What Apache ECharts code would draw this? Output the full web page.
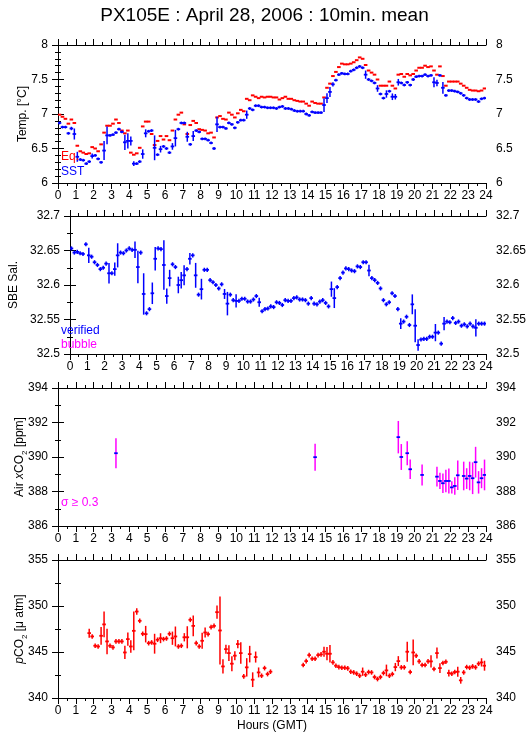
<!DOCTYPE html>
<html><head><meta charset="utf-8">
<script src="https://cdn.jsdelivr.net/npm/echarts@6/dist/echarts.min.js"></script>
<style>html,body{margin:0;padding:0;background:#fff}#c{width:529px;height:739px}</style>
</head><body><div id="c"></div>
<script>
// ---------- DATA (10-minute means, slot i covers hour i/6 .. (i+1)/6) ----------
const hourTicks = [0,1,2,3,4,5,6,7,8,9,10,11,12,13,14,15,16,17,18,19,20,21,22,23,24];

const eqTemp = [
6.99,6.96,6.93,6.86,6.92,6.87,6.54,6.46,6.44,6.42,
6.43,6.52,6.50,6.46,6.56,6.73,6.83,6.83,6.86,6.92,
6.87,6.76,6.72,6.76,6.44,6.41,6.43,6.51,6.82,6.89,
6.89,6.71,6.55,6.61,6.68,6.63,6.68,6.62,6.76,6.92,
6.99,7.02,6.85,6.71,6.84,6.90,6.87,6.78,6.77,6.76,
6.72,6.73,6.66,6.95,6.97,6.93,6.92,7.02,6.99,6.95,
7.01,7.06,7.04,7.22,7.20,7.27,7.25,7.23,7.25,7.24,
7.25,7.25,7.24,7.24,7.21,7.23,7.25,7.22,7.22,7.20,
7.19,7.18,7.18,7.15,7.12,7.18,7.16,7.15,7.15,7.24,
7.38,7.44,7.55,7.61,7.68,7.73,7.72,7.72,7.73,7.75,
7.78,7.82,7.80,7.71,7.63,7.60,7.57,7.50,7.41,7.41,
7.41,7.47,7.41,7.37,7.57,7.58,7.54,7.58,7.56,7.58,
7.63,7.67,7.67,7.70,7.68,7.69,7.63,7.57,7.69,7.55,
7.41,7.47,7.47,7.47,7.47,7.44,7.41,7.38,7.35,7.34,
7.34,7.33,7.34,7.37];

const sstTemp = [
6.87,6.81,6.81,6.72,6.79,6.71,6.38,6.34,6.33,6.28,
6.31,6.39,6.40,6.35,6.30,6.47,6.69,6.69,6.70,6.73,
6.78,6.74,6.59,6.61,6.61,6.28,6.28,6.31,6.42,6.72,
6.75,6.76,6.51,6.41,6.49,6.53,6.50,6.44,6.53,6.65,
6.78,6.87,6.87,6.67,6.56,6.68,6.76,6.74,6.64,6.64,
6.62,6.58,6.50,6.85,6.81,6.81,6.79,6.87,6.85,6.80,
6.88,6.91,6.91,6.99,7.08,7.06,7.12,7.12,7.10,7.10,
7.09,7.09,7.09,7.08,7.10,7.11,7.08,7.08,7.07,7.05,
7.04,7.04,7.04,7.00,6.98,7.03,7.02,7.02,7.02,7.13,
7.23,7.32,7.43,7.49,7.57,7.59,7.58,7.58,7.62,7.64,
7.67,7.69,7.67,7.57,7.50,7.48,7.45,7.37,7.29,7.23,
7.29,7.33,7.25,7.25,7.46,7.45,7.42,7.46,7.42,7.50,
7.54,7.55,7.55,7.57,7.55,7.56,7.46,7.45,7.56,7.38,
7.27,7.34,7.34,7.33,7.32,7.30,7.27,7.23,7.21,7.21,
7.21,7.18,7.22,7.23];

const sstStd = [
0.02,0.02,0.02,0.02,0.025,0.08,0.072,0.02,0.02,0.02,
0.02,0.036,0.02,0.02,0.02,0.138,0.13,0.02,0.02,0.02,
0.02,0.02,0.11,0.11,0.065,0.034,0.02,0.02,0.068,0.058,
0.02,0.02,0.18,0.02,0.048,0.02,0.02,0.02,0.048,0.12,
0.02,0.02,0.02,0.072,0.02,0.072,0.02,0.02,0.02,0.02,
0.02,0.02,0.02,0.11,0.02,0.02,0.02,0.02,0.02,0.02,
0.02,0.02,0.02,0.06,0.02,0.02,0.02,0.02,0.02,0.02,
0.02,0.02,0.02,0.02,0.02,0.02,0.02,0.02,0.02,0.02,
0.02,0.02,0.02,0.02,0.02,0.02,0.02,0.02,0.02,0.1,
0.072,0.072,0.03,0.02,0.02,0.02,0.02,0.02,0.02,0.02,
0.02,0.02,0.02,0.06,0.02,0.02,0.02,0.048,0.02,0.02,
0.053,0.02,0.048,0.04,0.048,0.02,0.02,0.02,0.02,0.02,
0.02,0.02,0.02,0.02,0.02,0.02,0.072,0.048,0.02,0.085,
0.02,0.02,0.02,0.02,0.02,0.02,0.02,0.02,0.02,0.02,
0.02,0.02,0.02,0.02];

const salinity = [
32.653,32.647,32.648,32.646,32.645,32.659,32.643,32.641,32.633,32.629,
32.623,32.625,32.631,32.617,32.617,32.623,32.643,32.647,32.646,32.650,
32.653,32.651,32.651,32.626,32.647,32.587,32.559,32.565,32.588,32.638,
32.653,32.652,32.629,32.584,32.610,32.630,32.626,32.600,32.607,32.614,
32.623,32.638,32.643,32.614,32.586,32.594,32.622,32.622,32.607,32.604,
32.600,32.595,32.601,32.587,32.573,32.586,32.578,32.577,32.577,32.580,
32.580,32.576,32.576,32.579,32.584,32.575,32.562,32.565,32.566,32.569,
32.568,32.575,32.574,32.571,32.578,32.577,32.577,32.581,32.582,32.579,
32.579,32.578,32.573,32.581,32.573,32.572,32.576,32.578,32.574,32.569,
32.594,32.581,32.597,32.610,32.618,32.624,32.623,32.621,32.620,32.627,
32.626,32.633,32.633,32.621,32.610,32.607,32.603,32.595,32.578,32.572,
32.575,32.588,32.584,32.565,32.544,32.547,32.554,32.542,32.572,32.541,
32.513,32.521,32.522,32.522,32.525,32.525,32.531,32.531,32.515,32.544,
32.547,32.546,32.552,32.545,32.547,32.541,32.543,32.540,32.544,32.540,
32.538,32.544,32.544,32.544];

const salStd = [
.003,.003,.003,.003,.003,.003,.011,.003,.003,.003,
.003,.003,.003,.015,.003,.0096,.0175,.003,.003,.003,
.003,.003,.012,.0236,.003,.03,.003,.003,.0156,.017,
.003,.003,.036,.011,.012,.003,.003,.012,.012,.0145,
.003,.0084,.003,.018,.003,.015,.003,.003,.003,.003,
.003,.003,.003,.0072,.017,.003,.003,.0096,.003,.003,
.003,.003,.003,.003,.003,.0065,.003,.003,.003,.003,
.003,.003,.003,.003,.003,.003,.003,.003,.003,.003,
.003,.003,.003,.003,.003,.003,.003,.003,.003,.003,
.011,.0144,.003,.003,.003,.003,.003,.003,.003,.003,
.003,.003,.003,.0084,.003,.003,.003,.003,.003,.003,
.003,.003,.003,.003,.0077,.003,.003,.003,.0144,.024,
.0084,.003,.003,.003,.003,.003,.0125,.003,.003,.0096,
.003,.003,.003,.003,.003,.003,.003,.003,.003,.003,
.0125,.003,.003,.003];

// Air xCO2: only flagged (sigma >= 0.3) points are shown
const airSlot = [19,86,114,115,117,118,122,127,128,129,130,131,132,133,134,136,137,138,139,140,141,142,143];
const airXco2 = [390.22,389.99,391.15,390.0,390.22,389.29,388.96,388.86,388.61,388.48,388.61,388.61,388.24,388.32,388.94,388.9,388.75,388.9,388.77,389.7,388.53,388.77,388.96];
const airStd = [0.87,0.78,0.94,0.75,0.70,0.56,0.61,0.57,0.47,0.56,0.65,0.73,0.36,0.51,0.85,0.83,0.6,0.83,0.92,0.89,0.65,0.58,0.89];

const pco2 = [
null,null,null,null,null,null,null,null,null,null,
347.05,346.69,345.68,345.6,346.76,348.0,346.15,345.68,345.5,346.15,
346.15,346.15,344.95,346.4,345.6,347.3,349.4,348.39,346.98,346.94,
345.96,346.04,345.9,346.33,346.5,346.4,346.47,346.98,346.5,346.69,
345.6,345.68,346.6,346.6,348.5,347.84,345.96,345.6,346.22,347.12,
346.94,347.7,347.84,349.33,347.34,343.43,345.31,344.88,343.73,344.6,
345.86,344.88,342.35,343.33,344.77,341.99,344.45,342.78,342.42,343.25,
342.6,342.86,null,null,null,null,null,null,null,null,
null,null,343.58,344.01,344.66,344.27,344.27,344.66,344.74,345.03,
344.81,344.81,343.87,343.51,343.36,343.29,343.29,343.22,342.86,342.78,
342.64,342.42,342.86,342.53,342.82,342.78,342.28,342.06,342.28,342.71,
343.0,342.42,342.6,343.36,344.01,343.33,343.33,345.03,342.82,344.95,
344.6,343.98,343.58,343.58,343.98,343.98,343.15,344.88,343.25,343.8,
343.94,342.71,342.64,342.82,342.86,341.92,342.78,343.36,343.29,343.43,
343.33,343.73,343.87,343.51];

const pco2Std = [
0,0,0,0,0,0,0,0,0,0,
.49,.25,.25,.25,.96,1.39,1.39,.25,.25,.25,
.25,.25,.72,.72,.69,2.1,.36,.25,.25,.9,
.25,.25,1.08,.25,.54,.25,.25,.25,.72,1.08,
.25,.25,.45,1.2,.25,1.12,.25,.25,.87,.54,
.25,.25,.25,.72,3.7,.78,.49,.85,.81,.49,
.45,1.17,.25,1.0,.9,.8,.6,.54,.25,.25,
.25,.25,0,0,0,0,0,0,0,0,
0,0,.25,.25,.25,.25,.25,.25,.25,.54,
.72,.94,.25,.25,.25,.25,.25,.25,.25,.25,
.25,.25,.45,.25,.25,.25,.25,.25,.25,.25,
.63,.25,.25,.45,.54,.25,.25,1.08,.25,1.4,
.25,.25,.25,.25,.25,.67,.25,.6,.54,.25,
.25,.36,.25,.25,.54,.36,.25,.25,.25,.25,
.25,.25,.45,.54];

[eqTemp,sstTemp,sstStd,salinity,salStd,pco2,pco2Std].forEach((a,k)=>{ if(a.length!==144) throw new Error('array '+k+' length '+a.length); });
if (airSlot.length!==airXco2.length || airSlot.length!==airStd.length) throw new Error('air length');

// ---------- BUILD ----------
const FONT = '"Liberation Sans", Arial, Helvetica, sans-serif';
const BLUE = '#0000ff', RED = '#ff0000', MAG = '#ff00ff';
const slotHour = i => (i + 0.5) / 6;

function toPoints(vals, errs) {
  const out = [];
  vals.forEach((v, i) => { if (v !== null) out.push([slotHour(i), v, errs ? errs[i] : 0]); });
  return out;
}
const airPoints = airSlot.map((s, k) => [slotHour(s), airXco2[k], airStd[k]]);

function crossSeries(gi, data, dashColor, barColor, halfPx, dashW) {
  return {
    type: 'custom', xAxisIndex: gi * 2, yAxisIndex: gi * 2, clip: true,
    data: data, animation: false,
    renderItem: function (params, api) {
      const x = api.value(0), v = api.value(1), e = api.value(2);
      const c = api.coord([x, v]);
      const children = [];
      if (e > 0) {
        const t = api.coord([x, v + e]), b = api.coord([x, v - e]);
        children.push({ type: 'line', shape: { x1: c[0], y1: t[1], x2: c[0], y2: b[1] },
          style: { stroke: barColor, lineWidth: 1.5 } });
      }
      children.push({ type: 'line', shape: { x1: c[0] - halfPx, y1: c[1], x2: c[0] + halfPx, y2: c[1] },
        style: { stroke: dashColor, lineWidth: dashW } });
      return { type: 'group', children: children };
    }
  };
}

const panels = [
  { top: 45,  min: 6,    max: 8,    interval: 0.5,  minor: 5, name: 'Temp. [°C]', gap: 29 },
  { top: 216, min: 32.5, max: 32.7, interval: 0.05, minor: 2, name: 'SBE Sal.', gap: 50 },
  { top: 388, min: 386,  max: 394,  interval: 2,    minor: 2, name: 'Air {i|x}CO{s|2} [ppm]', gap: 32 },
  { top: 560, min: 340,  max: 355,  interval: 5,    minor: 2, name: '{i|p}CO{s|2} [μ atm]', gap: 32 }
];

const axisLine = { show: true, lineStyle: { color: '#000', width: 1 } };
const grid = [], xAxis = [], yAxis = [];
panels.forEach((p, gi) => {
  grid.push({ left: 58, width: 428, top: p.top, height: 138 });
  const xBase = {
    type: 'value', gridIndex: gi, min: 0, max: 24, interval: 1,
    axisLine: axisLine, splitLine: { show: false },
    axisTick: { show: true, inside: false, length: 6, lineStyle: { color: '#000' } },
    minorTick: { show: true, splitNumber: 2, length: 3, lineStyle: { color: '#000' } },
    minorSplitLine: { show: false }
  };
  xAxis.push(Object.assign({}, xBase, {
    position: 'bottom',
    axisLabel: { show: true, margin: 7, fontSize: 12, color: '#000', fontFamily: FONT,
      formatter: v => (hourTicks.indexOf(v) >= 0 ? String(v) : '') },
    name: gi === 3 ? 'Hours (GMT)' : '', nameLocation: 'middle', nameGap: 22, nameMoveOverlap: false,
    nameTextStyle: { fontSize: 12, color: '#000', fontFamily: FONT }
  }));
  xAxis.push(Object.assign({}, xBase, { position: 'top', axisLabel: { show: false } }));
  const yBase = {
    type: 'value', gridIndex: gi, min: p.min, max: p.max, interval: p.interval,
    axisLine: axisLine, splitLine: { show: false },
    axisTick: { show: true, inside: false, length: 6, lineStyle: { color: '#000' } },
    minorTick: { show: true, splitNumber: p.minor, length: 3, lineStyle: { color: '#000' } },
    minorSplitLine: { show: false },
    axisLabel: { show: true, margin: 10, fontSize: 12, color: '#000', fontFamily: FONT }
  };
  yAxis.push(Object.assign({}, yBase, {
    position: 'left', name: p.name, nameLocation: 'middle', nameGap: p.gap, nameMoveOverlap: false,
    nameTextStyle: { fontSize: 12, color: '#000', fontFamily: FONT,
      rich: { i: { fontSize: 12, fontStyle: 'italic', fontFamily: FONT, color: '#000' },
              s: { fontSize: 8, fontFamily: FONT, color: '#000', verticalAlign: 'bottom', padding: [0, 0, -3, 0] } } }
  }));
  yAxis.push(Object.assign({}, yBase, { position: 'right' }));
});

const series = [
  crossSeries(0, toPoints(eqTemp, null), RED, RED, 1.8, 2),
  crossSeries(0, toPoints(sstTemp, sstStd), BLUE, BLUE, 1.8, 1.8),
  crossSeries(1, toPoints(salinity, salStd), BLUE, BLUE, 1.8, 1.8),
  crossSeries(2, airPoints, BLUE, MAG, 1.8, 1.8),
  crossSeries(3, toPoints(pco2, pco2Std), RED, RED, 1.8, 1.8)
];

const legendText = (txt, x, y, color) => ({
  type: 'text', left: x, top: y, z: 100,
  style: { text: txt, fill: color, font: '12px ' + FONT }
});

const option = {
  animation: false,
  backgroundColor: '#fff',
  title: { text: 'PX105E : April 28, 2006 : 10min. mean', left: 'center', top: 1,
    textStyle: { fontSize: 19, fontWeight: 'normal', color: '#000', fontFamily: FONT } },
  grid: grid, xAxis: xAxis, yAxis: yAxis, series: series,
  graphic: [
    legendText('Eq.', 61, 151, RED),
    legendText('SST', 61, 166, BLUE),
    legendText('verified', 61, 325, BLUE),
    legendText('bubble', 61, 339, MAG),
    legendText('σ ≥ 0.3', 61, 497, MAG)
  ]
};

const chart = echarts.init(document.getElementById('c'), null, { renderer: 'canvas' });
chart.setOption(option);
</script></body></html>
